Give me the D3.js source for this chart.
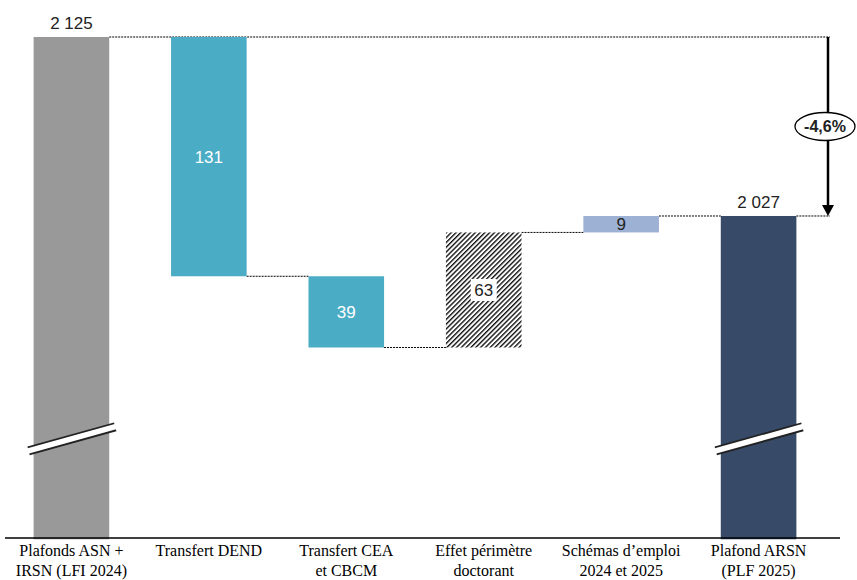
<!DOCTYPE html>
<html>
<head>
<meta charset="utf-8">
<script src="https://cdn.jsdelivr.net/npm/d3@7"></script>
<style>
  body { margin: 0; background: #fff; }
</style>
</head>
<body>
<script>
//Width and height
var w = 857;
var h = 580;

//Data
var categories = ["Plafonds ASN +|IRSN (LFI 2024)", "Transfert DEND", "Transfert CEA|et CBCM",
                  "Effet périmètre|doctorant", "Schémas d\u2019emploi|2024 et 2025", "Plafond ARSN|(PLF 2025)"];
var deltas = [2125, -131, -39, 63, 9, 2027];
var kinds = ["total", "step", "step", "hatch", "step", "total"];
var colors = ["#999999", "#4BACC6", "#4BACC6", "none", "#9DB1D4", "#374B69"];
var labels = ["2 125", "131", "39", "63", "9", "2 027"];
var changeLabel = "-4,6%";

//Build waterfall
var bars = [];
var run = 0;
for (var i = 0; i < deltas.length; i++) {
    var start, end;
    if (kinds[i] == "total") { start = 1850; end = deltas[i]; run = deltas[i]; }
    else { start = run; end = run + deltas[i]; run = end; }
    bars.push({cat: categories[i], start: start, end: end, kind: kinds[i], color: colors[i], label: labels[i], idx: i});
}

//Scales
var x = d3.scaleBand().domain(categories).range([2, 828]).paddingInner(0.45).paddingOuter(0.23);
var y = d3.scaleLinear().domain([1850.7, 2125]).range([538, 37]);

var svg = d3.select("body").append("svg").attr("width", w).attr("height", h);

//Hatch pattern
var pat = svg.append("defs").append("pattern")
    .attr("id", "hatch").attr("patternUnits", "userSpaceOnUse")
    .attr("width", 3.4).attr("height", 3.4)
    .attr("patternTransform", "rotate(45)");
pat.append("rect").attr("width", 3.4).attr("height", 3.4).attr("fill", "#fff");
pat.append("line").attr("x1", 0.7).attr("y1", 0).attr("x2", 0.7).attr("y2", 3.4)
    .attr("stroke", "#000").attr("stroke-width", 1.3);

//Connectors
var conn = [];
conn.push({x1: x(bars[0].cat) + x.bandwidth(), x2: 830, v: bars[0].end});
for (var i = 1; i < bars.length - 1; i++) {
    conn.push({x1: x(bars[i].cat) + x.bandwidth(), x2: x(bars[i + 1].cat), v: bars[i].end});
}
conn.push({x1: x(bars[5].cat) + x.bandwidth(), x2: 830, v: bars[5].end});
svg.selectAll(".conn").data(conn).enter().append("line")
    .attr("x1", d => d.x1).attr("x2", d => d.x2)
    .attr("y1", d => y(d.v)).attr("y2", d => y(d.v))
    .attr("stroke", "#000").attr("stroke-width", 1).attr("stroke-dasharray", "2,1");

//Bars
svg.selectAll(".bar").data(bars).enter().append("rect")
    .attr("x", d => x(d.cat))
    .attr("width", x.bandwidth())
    .attr("y", d => y(Math.max(d.start, d.end)))
    .attr("height", d => Math.abs(y(d.start) - y(d.end)))
    .attr("fill", d => d.kind == "hatch" ? "url(#hatch)" : d.color);

//Break marks
bars.filter(d => d.kind == "total").forEach(function(d) {
    var bx = x(d.cat) - 5, ex = x(d.cat) + x.bandwidth() + 6;
    var yb = y(1905);
    var g = svg.append("g");
    g.append("line").attr("x1", bx).attr("y1", yb + 12).attr("x2", ex).attr("y2", yb - 12)
        .attr("stroke", "#222").attr("stroke-width", 9);
    g.append("line").attr("x1", bx - 2).attr("y1", yb + 12.6).attr("x2", ex + 2).attr("y2", yb - 12.6)
        .attr("stroke", "#fff").attr("stroke-width", 5.5);
});

//Axis line
svg.append("line").attr("x1", 5).attr("x2", 840).attr("y1", 538).attr("y2", 538)
    .attr("stroke", "#000").attr("stroke-width", 1.5);

//Category labels
svg.selectAll(".cat").data(categories).enter().append("text")
    .attr("x", d => x(d) + x.bandwidth() / 2)
    .attr("y", 556)
    .attr("text-anchor", "middle")
    .style("font-family", "'Liberation Serif', 'DejaVu Serif', serif")
    .style("font-size", "16px")
    .attr("fill", "#000")
    .each(function(d) {
        var parts = d.split("|");
        var t = d3.select(this);
        parts.forEach(function(p, k) {
            t.append("tspan").attr("x", x(d) + x.bandwidth() / 2).attr("dy", k == 0 ? 0 : 20).text(p);
        });
    });

//Value labels
var font = "'Liberation Sans', Arial, sans-serif";
bars.forEach(function(d) {
    var cx = x(d.cat) + x.bandwidth() / 2;
    if (d.kind == "total") {
        svg.append("text").attr("x", cx).attr("y", y(d.end) - 8)
            .attr("text-anchor", "middle").style("font-family", font).style("font-size", "17px")
            .attr("fill", "#222").text(d.label);
    } else {
        var cy = (y(d.start) + y(d.end)) / 2;
        if (d.kind == "hatch") {
            svg.append("rect").attr("x", cx - 13).attr("y", cy - 11).attr("width", 26).attr("height", 22).attr("fill", "#fff");
        }
        svg.append("text").attr("x", cx).attr("y", cy + 6)
            .attr("text-anchor", "middle").style("font-family", font).style("font-size", "17px")
            .attr("fill", d.color == "#4BACC6" ? "#fff" : "#222").text(d.label);
    }
});

//Change arrow
var ax = 828;
svg.append("line").attr("x1", ax).attr("x2", ax).attr("y1", y(2125)).attr("y2", y(2027) - 9)
    .attr("stroke", "#000").attr("stroke-width", 2.5);
svg.append("path")
    .attr("d", "M" + (ax - 6) + "," + (y(2027) - 11) + "L" + (ax + 6) + "," + (y(2027) - 11) + "L" + ax + "," + y(2027) + "Z")
    .attr("fill", "#000");
var my = (y(2125) + y(2027)) / 2;
svg.append("ellipse").attr("cx", ax - 3).attr("cy", my).attr("rx", 30).attr("ry", 14)
    .attr("fill", "#fff").attr("stroke", "#000").attr("stroke-width", 1.3);
svg.append("text").attr("x", ax - 3).attr("y", my + 6)
    .attr("text-anchor", "middle").style("font-family", font).style("font-size", "16px")
    .style("font-weight", "bold").attr("fill", "#222").text(changeLabel);
</script>
</body>
</html>
